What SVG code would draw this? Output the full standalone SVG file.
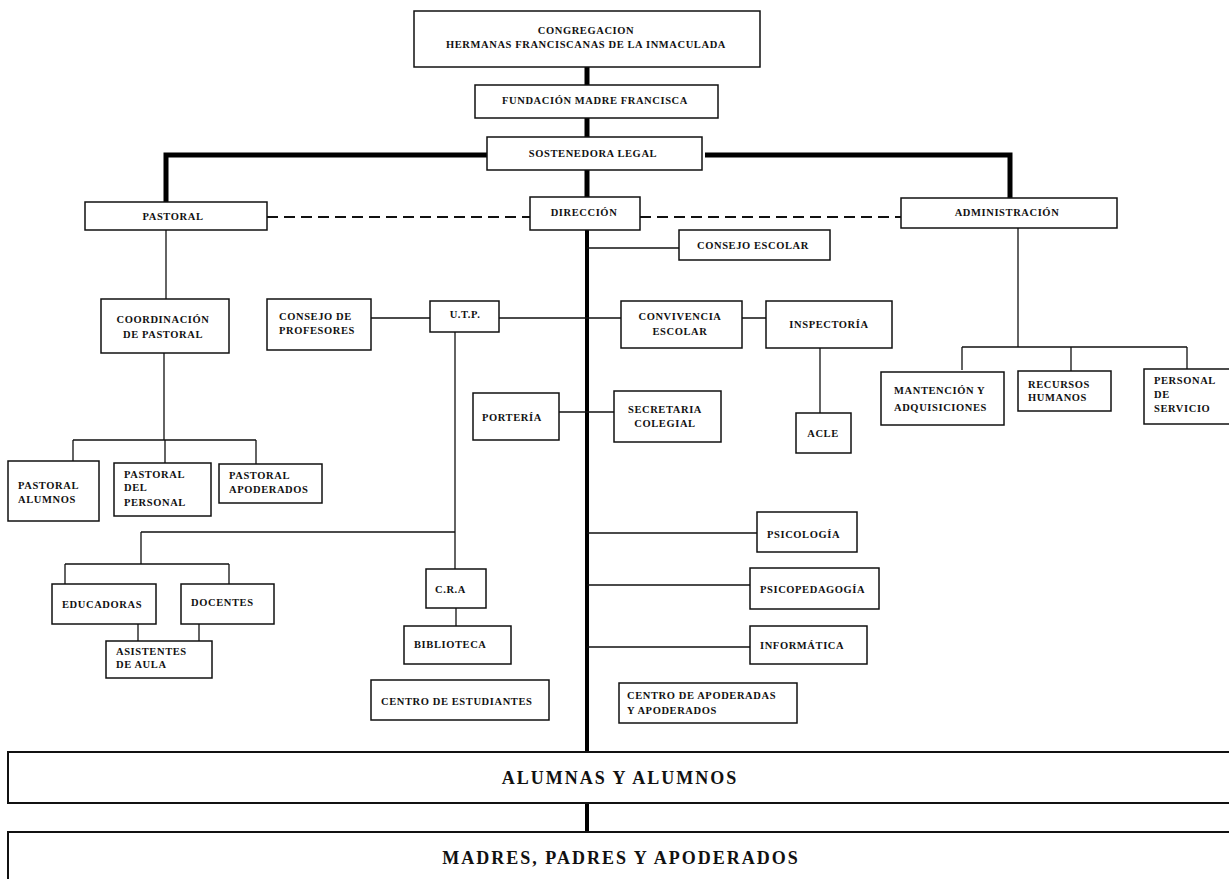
<svg xmlns="http://www.w3.org/2000/svg" width="1229" height="879" viewBox="0 0 1229 879">
<style>
.bg{fill:#fff}
.box{fill:#fff;stroke:#111;stroke-width:1.5}
.bigbox{fill:#fff;stroke:#111;stroke-width:2}
.t{font-family:"Liberation Serif","Times New Roman",serif;font-weight:bold;font-size:10.5px;letter-spacing:0.6px;fill:#111}
.c{text-anchor:middle}
.big{font-size:18px;letter-spacing:2px}
.thick{fill:none;stroke:#000;stroke-width:5}
.main{fill:none;stroke:#000;stroke-width:4}
.thin{fill:none;stroke:#111;stroke-width:1.3}
.dash{fill:none;stroke:#111;stroke-width:1.8;stroke-dasharray:11 6}
</style>
<rect class="bg" x="0" y="0" width="1229" height="879"/>
<g id="connectors">
<path class="thick" d="M587 67V85M587 118V137M587 170V198"/>
<path class="thick" d="M166 202V155H487M705 155H1010V198"/>
<path class="main" d="M587 230V752M587 803V832"/>
<path class="dash" d="M267 217H530M640 217H901"/>
<path class="thin" d="M587 248H679"/>
<path class="thin" d="M166 230V299"/>
<path class="thin" d="M164 353V440M73 440H256M73 440V461M165 440V463M256 440V464"/>
<path class="thin" d="M371 318H430M499 318H621M742 318H766"/>
<path class="thin" d="M820 348V413"/>
<path class="thin" d="M1018 228V347M962 347H1187M962 347V370M1071 347V371M1187 347V369"/>
<path class="thin" d="M455 332V569M141 532H455M141 532V564M65 564H229M65 564V584M229 564V584M138 624V641M199 624V641"/>
<path class="thin" d="M456 608V626"/>
<path class="thin" d="M559 412H614"/>
<path class="thin" d="M587 533H757M587 585H750M587 647H750"/>
</g>
<g id="congregacion"><rect class="box" x="414" y="11" width="346" height="56"/><text class="t c" x="586" y="34">CONGREGACION</text><text class="t c" x="586" y="48">HERMANAS FRANCISCANAS DE LA INMACULADA</text></g>
<g id="fundacion"><rect class="box" x="475" y="85" width="243" height="33"/><text class="t c" x="595" y="104">FUNDACIÓN MADRE FRANCISCA</text></g>
<g id="sostenedora"><rect class="box" x="487" y="137" width="215" height="33"/><text class="t c" x="593" y="157">SOSTENEDORA LEGAL</text></g>
<g id="pastoral"><rect class="box" x="85" y="202" width="182" height="28"/><text class="t c" x="173" y="220">PASTORAL</text></g>
<g id="direccion"><rect class="box" x="530" y="197" width="110" height="33"/><text class="t c" x="584" y="216">DIRECCIÓN</text></g>
<g id="administracion"><rect class="box" x="901" y="198" width="216" height="30"/><text class="t c" x="1007" y="216">ADMINISTRACIÓN</text></g>
<g id="consejo-escolar"><rect class="box" x="679" y="230" width="151" height="30"/><text class="t c" x="753" y="249">CONSEJO ESCOLAR</text></g>
<g id="coordinacion"><rect class="box" x="101" y="299" width="128" height="54"/><text class="t c" x="163" y="323">COORDINACIÓN</text><text class="t c" x="163" y="338">DE PASTORAL</text></g>
<g id="consejo-profesores"><rect class="box" x="267" y="299" width="104" height="51"/><text class="t" x="279" y="320">CONSEJO DE</text><text class="t" x="279" y="334">PROFESORES</text></g>
<g id="utp"><rect class="box" x="430" y="301" width="69" height="31"/><text class="t c" x="465" y="318">U.T.P.</text></g>
<g id="convivencia"><rect class="box" x="621" y="301" width="121" height="47"/><text class="t c" x="680" y="320">CONVIVENCIA</text><text class="t c" x="680" y="335">ESCOLAR</text></g>
<g id="inspectoria"><rect class="box" x="766" y="301" width="126" height="47"/><text class="t c" x="829" y="328">INSPECTORÍA</text></g>
<g id="acle"><rect class="box" x="796" y="413" width="55" height="40"/><text class="t c" x="823" y="437">ACLE</text></g>
<g id="mantencion"><rect class="box" x="881" y="372" width="123" height="53"/><text class="t" x="894" y="394">MANTENCIÓN Y</text><text class="t" x="894" y="411">ADQUISICIONES</text></g>
<g id="recursos"><rect class="box" x="1018" y="371" width="93" height="40"/><text class="t" x="1028" y="388">RECURSOS</text><text class="t" x="1028" y="401">HUMANOS</text></g>
<g id="personal-servicio"><rect class="box" x="1144" y="369" width="90" height="55"/><text class="t" x="1154" y="384">PERSONAL</text><text class="t" x="1154" y="398">DE</text><text class="t" x="1154" y="412">SERVICIO</text></g>
<g id="pastoral-alumnos"><rect class="box" x="8" y="461" width="91" height="60"/><text class="t" x="18" y="489">PASTORAL</text><text class="t" x="18" y="503">ALUMNOS</text></g>
<g id="pastoral-personal"><rect class="box" x="114" y="463" width="97" height="53"/><text class="t" x="124" y="478">PASTORAL</text><text class="t" x="124" y="491">DEL</text><text class="t" x="124" y="506">PERSONAL</text></g>
<g id="pastoral-apoderados"><rect class="box" x="219" y="464" width="103" height="39"/><text class="t" x="229" y="479">PASTORAL</text><text class="t" x="229" y="493">APODERADOS</text></g>
<g id="porteria"><rect class="box" x="473" y="393" width="86" height="47"/><text class="t" x="482" y="421">PORTERÍA</text></g>
<g id="secretaria"><rect class="box" x="614" y="391" width="107" height="51"/><text class="t c" x="665" y="413">SECRETARIA</text><text class="t c" x="665" y="427">COLEGIAL</text></g>
<g id="psicologia"><rect class="box" x="757" y="512" width="100" height="40"/><text class="t" x="767" y="538">PSICOLOGÍA</text></g>
<g id="psicopedagogia"><rect class="box" x="750" y="568" width="129" height="41"/><text class="t" x="760" y="593">PSICOPEDAGOGÍA</text></g>
<g id="informatica"><rect class="box" x="750" y="626" width="117" height="38"/><text class="t" x="760" y="649">INFORMÁTICA</text></g>
<g id="educadoras"><rect class="box" x="52" y="584" width="104" height="40"/><text class="t" x="62" y="608">EDUCADORAS</text></g>
<g id="docentes"><rect class="box" x="181" y="584" width="93" height="40"/><text class="t" x="191" y="606">DOCENTES</text></g>
<g id="asistentes"><rect class="box" x="106" y="641" width="106" height="37"/><text class="t" x="116" y="655">ASISTENTES</text><text class="t" x="116" y="668">DE AULA</text></g>
<g id="cra"><rect class="box" x="426" y="569" width="60" height="39"/><text class="t" x="435" y="593">C.R.A</text></g>
<g id="biblioteca"><rect class="box" x="404" y="626" width="107" height="38"/><text class="t" x="414" y="648">BIBLIOTECA</text></g>
<g id="centro-estudiantes"><rect class="box" x="371" y="680" width="178" height="40"/><text class="t" x="381" y="705">CENTRO DE ESTUDIANTES</text></g>
<g id="centro-apoderados"><rect class="box" x="619" y="683" width="178" height="40"/><text class="t" x="627" y="699">CENTRO DE APODERADAS</text><text class="t" x="627" y="714">Y APODERADOS</text></g>
<g id="alumnos"><rect class="bigbox" x="8" y="752" width="1240" height="51"/><text class="t c big" x="620" y="784">ALUMNAS Y ALUMNOS</text></g>
<g id="madres"><rect class="bigbox" x="8" y="832" width="1240" height="70"/><text class="t c big" x="621" y="864">MADRES, PADRES Y APODERADOS</text></g>
</svg>
